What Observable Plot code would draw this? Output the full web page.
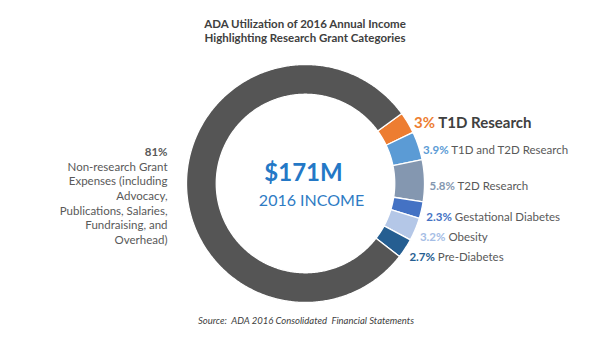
<!DOCTYPE html>
<html><head><meta charset="utf-8">
<script src="https://cdn.jsdelivr.net/npm/d3@7"></script>
<script src="https://cdn.jsdelivr.net/npm/@observablehq/plot@0.6"></script>
<style>
body{margin:0;background:#fff;font-family:Lato,"Open Sans",sans-serif;width:600px;height:352px;overflow:hidden}
#title{height:50px;box-sizing:border-box;padding-top:17px;text-align:center;font-weight:bold;font-size:11.5px;line-height:14px;color:#404040;padding-left:10px}
#chart svg{display:block}
#caption{text-align:center;font-style:italic;font-size:9.5px;color:#404040;white-space:pre;padding-left:12px;line-height:18px}
</style></head><body>
<div id="title">ADA Utilization of 2016 Annual Income<br>Highlighting Research Grant Categories</div>
<div id="chart"></div>
<div id="caption">Source:  ADA 2016 Consolidated  Financial Statements</div>
<script>
const categories = ["T1D Research","T1D and T2D Research","T2D Research","Gestational Diabetes","Obesity","Pre-Diabetes","Non-research Grant Expenses"];
const labelNames = ["T1D Research","T1D and T2D Research","T2D Research","Gestational Diabetes","Obesity","Pre-Diabetes","Non-research Grant\nExpenses (including\nAdvocacy,\nPublications, Salaries,\nFundraising, and\nOverhead)"];
const values = [3, 3.9, 5.8, 2.3, 3.2, 2.7, 81];
const pctLabels = ["3%","3.9%","5.8%","2.3%","3.2%","2.7%","81%"];
const colors = ["#ED7D31","#5B9BD5","#8497B0","#4472C4","#B4C7E7","#255E91","#555555"];
const pctColors = ["#ED7D31","#5B9BD5","#8497B0","#4472C4","#A5BDE5","#255E91","#595959"];
const centerTitle = "$171M";
const centerSub = "2016 INCOME";

const rows = categories.map((c,i)=>({cat:c, value:values[i], pct:pctLabels[i], name:labelNames[i], color:pctColors[i]}));
const innerR = 0.75;
const start = 54*Math.PI/180;
const arcs = d3.pie().sort(null).value(d=>d.value).startAngle(start).endAngle(start+2*Math.PI)(rows);

const ring = [];
arcs.forEach(a=>{
  const n = Math.max(2, Math.ceil((a.endAngle-a.startAngle)/0.01));
  for(let k=0;k<=n;k++){const t=a.startAngle+(a.endAngle-a.startAngle)*k/n; ring.push({cat:a.data.cat,x:Math.sin(t),y:Math.cos(t)});}
  for(let k=n;k>=0;k--){const t=a.startAngle+(a.endAngle-a.startAngle)*k/n; ring.push({cat:a.data.cat,x:innerR*Math.sin(t),y:innerR*Math.cos(t)});}
});

const labR = 1 + 5/119;
const labelPts = arcs.map(a=>{const m=(a.startAngle+a.endAngle)/2; return {...a.data, x:labR*Math.sin(m), y:labR*Math.cos(m), lx:(1+19/119)*Math.sin(m), ly:(1+19/119)*Math.cos(m)};});
const first = labelPts.slice(0,1);
const others = labelPts.slice(1,6);
const big = labelPts.slice(6);

const cx=305, cy=133, R=119;
const svg = Plot.plot({
  width:600, height:262,
  margin:0,
  x:{domain:[-1,1], range:[cx-R,cx+R], axis:null},
  y:{domain:[-1,1], range:[cy+R,cy-R], axis:null},
  color:{domain:categories, range:colors},
  style:{fontFamily:"Lato, 'Open Sans', sans-serif", background:"white"},
  marks:[
    Plot.line(ring,{x:"x",y:"y",z:"cat",fill:"cat",stroke:"white",strokeWidth:1.3,curve:"linear-closed"}),
    Plot.text(first,{x:"x",y:"y",text:d=>d.pct+" "+d.name,textAnchor:"start",fontSize:15,fontWeight:"bold",fill:"#404040",dx:2,dy:3}),
    Plot.text(others,{x:"x",y:"y",text:d=>d.pct+" "+d.name,textAnchor:"start",fontSize:11.5,fill:"#595959",dy:6}),
    Plot.text(big,{x:"lx",y:"ly",text:d=>d.pct+"\n"+d.name,textAnchor:"end",lineAnchor:"middle",fontSize:11.5,lineHeight:1.27,fill:"#595959",dy:14}),
    Plot.text([{x:0,y:0,t:centerTitle}],{x:"x",y:"y",text:"t",fontSize:24,fontWeight:"bold",fill:"#2478C6",dx:-2,dy:-10}),
    Plot.text([{x:0,y:0,t:centerSub}],{x:"x",y:"y",text:"t",fontSize:16,fill:"#2E7BC4",dx:6,dy:17})
  ]
});
document.getElementById("chart").appendChild(svg);

const textGroups = svg.querySelectorAll('g[aria-label="text"]');
function colorize(g, data){
  if(!g) return;
  g.querySelectorAll("text").forEach((t,i)=>{
    const d = data[i];
    t.textContent = "";
    const s1 = document.createElementNS("http://www.w3.org/2000/svg","tspan");
    s1.setAttribute("fill", d.color); s1.setAttribute("font-weight","bold"); s1.textContent = d.pct;
    const s2 = document.createElementNS("http://www.w3.org/2000/svg","tspan");
    s2.textContent = " " + d.name;
    t.appendChild(s1); t.appendChild(s2);
  });
}
colorize(textGroups[0], first);
colorize(textGroups[1], others);
if(textGroups[2]){const ts = textGroups[2].querySelector("tspan"); if(ts) ts.setAttribute("font-weight","bold");}
</script>
</body></html>
